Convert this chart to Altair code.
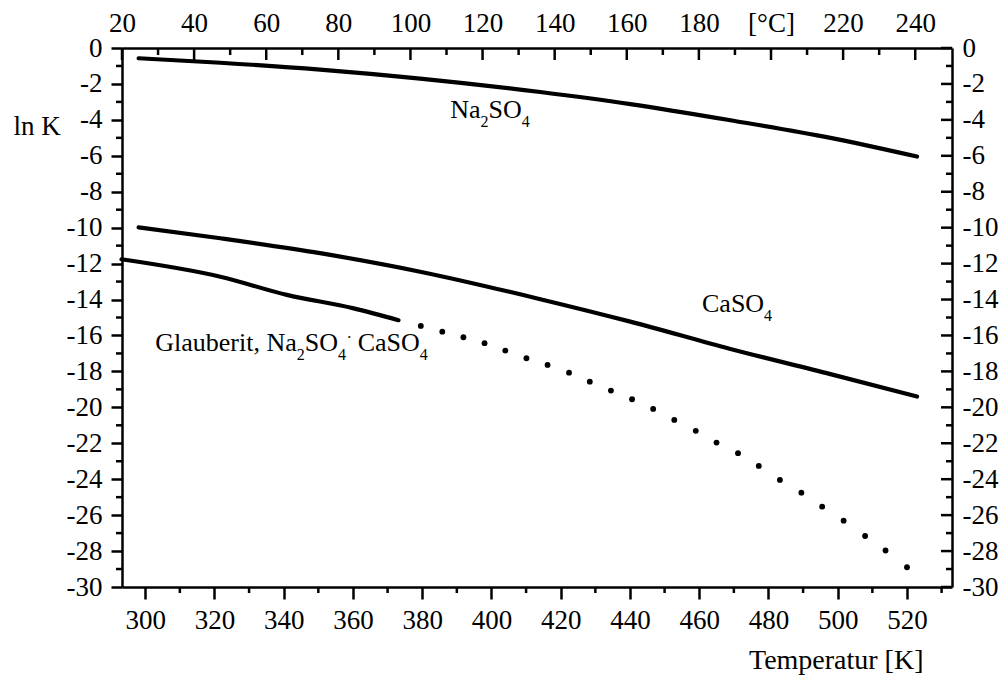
import altair as alt
import pandas as pd

# ---------------- data ----------------
na_K = [298.1, 321.7, 350.5, 379.4, 414.1, 440.1, 469.0, 497.9, 522.9]
na_v = [-0.57, -0.82, -1.20, -1.70, -2.45, -3.12, -4.02, -5.00, -6.04]

ca_K = [298.1, 321.7, 350.5, 379.4, 414.1, 440.1, 469.0, 497.9, 522.9]
ca_v = [-9.98, -10.59, -11.42, -12.45, -13.98, -15.23, -16.75, -18.15, -19.40]

gl_K = [293.15, 321.7, 340.9, 360.2, 373.15]
gl_v = [-11.76, -12.73, -13.74, -14.49, -15.15]

gl_dot_K = [379.6, 385.8, 391.9, 398.0, 404.0, 410.1, 416.2, 422.4, 428.4, 434.5,
            440.6, 446.7, 452.8, 459.0, 465.0, 471.2, 477.2, 483.3, 489.5, 495.5,
            501.7, 507.9, 513.8, 520.0]
gl_dot_v = [-15.47, -15.79, -16.10, -16.43, -16.84, -17.27, -17.64, -18.07, -18.57, -19.07,
            -19.55, -20.09, -20.70, -21.31, -21.96, -22.55, -23.26, -24.04, -24.75, -25.53,
            -26.31, -27.16, -27.97, -28.90]

K_major = [300, 320, 340, 360, 380, 400, 420, 440, 460, 480, 500, 520]
K_minor = [310, 330, 350, 370, 390, 410, 430, 450, 470, 490, 510, 530]
C_major = [20, 40, 60, 80, 100, 120, 140, 160, 180, 200, 220, 240]
C_minor = [30, 50, 70, 90, 110, 130, 150, 170, 190, 210, 230]
Y_major = [0, -2, -4, -6, -8, -10, -12, -14, -16, -18, -20, -22, -24, -26, -28, -30]
Y_minor = [-1, -3, -5, -7, -9, -11, -13, -15, -17, -19, -21, -23, -25, -27, -29]

K_DOMAIN = [293.3, 533.0]
C_DOMAIN = [20.0, 250.2]
Y_DOMAIN = [-30, 0]

# label anchors (temperature K, ln K) at left baseline
lbl_na = (388.1, -3.90)
lbl_ca = (460.8, -14.71)
lbl_gl = (302.9, -16.89)

# ---------------- styling ----------------
W, H = 830, 539
FONT = "Liberation Serif"
FS = 27      # axis text
TFS = 28     # axis title
LFS = 26     # curve labels
SFS = 16     # subscripts
TW = 2.5

ks = alt.Scale(domain=K_DOMAIN, nice=False, zero=False)
cs = alt.Scale(domain=C_DOMAIN, nice=False, zero=False)
ys = alt.Scale(domain=Y_DOMAIN, nice=False, zero=False)

common_axis = dict(grid=False, domainColor="black", domainWidth=TW, tickColor="black",
                   tickWidth=TW, labelFont=FONT, labelFontSize=FS, labelColor="black",
                   labelFlush=False, labelOverlap=False)

lines_df = pd.DataFrame({
    "K": na_K + ca_K + gl_K,
    "v": na_v + ca_v + gl_v,
    "series": ["Na2SO4"] * len(na_K) + ["CaSO4"] * len(ca_K) + ["Glauberit"] * len(gl_K),
})

lines = alt.Chart(lines_df).mark_line(
    color="black", strokeWidth=4.2, strokeCap="round", strokeJoin="round",
    interpolate="monotone"
).encode(
    x=alt.X("K:Q", scale=ks, axis=alt.Axis(
        orient="bottom", values=K_major, tickSize=12, labelPadding=8,
        labelExpr="datum.value + ''",
        title="Temperatur [K]", titleFont=FONT, titleFontSize=TFS, titleFontWeight="normal",
        titleColor="black", titleX=801, titleY=81, titleAlign="right",
        titleBaseline="alphabetic", **common_axis)),
    y=alt.Y("v:Q", scale=ys, axis=alt.Axis(
        orient="left", values=Y_major, tickSize=11, labelPadding=9,
        labelExpr="datum.value + ''",
        title="ln K", titleFont=FONT, titleFontSize=FS, titleFontWeight="normal",
        titleColor="black", titleAngle=0, titleX=-109, titleY=86, titleAlign="left",
        titleBaseline="alphabetic", **common_axis)),
    detail="series:N",
)

dots = alt.Chart(pd.DataFrame({"K": gl_dot_K, "v": gl_dot_v})).mark_point(
    filled=True, color="black", size=34, opacity=1, shape="circle"
).encode(
    x=alt.X("K:Q", scale=ks, axis=None),
    y=alt.Y("v:Q", scale=ys, axis=None),
)

rule_style = dict(color="black", strokeWidth=TW)

left_minor = alt.Chart(pd.DataFrame({"v": Y_minor})).mark_rule(**rule_style).encode(
    x=alt.value(-6), x2=alt.value(0),
    y=alt.Y("v:Q", scale=ys, axis=None),
)

right_major = alt.Chart(pd.DataFrame({"v": Y_major})).mark_rule(**rule_style).encode(
    x=alt.value(W - 11), x2=alt.value(W),
    y=alt.Y("v:Q", scale=ys, axis=alt.Axis(
        orient="right", values=Y_major, ticks=False, labelPadding=10,
        labelExpr="datum.value + ''", title=None, **common_axis)),
)

right_minor = alt.Chart(pd.DataFrame({"v": Y_minor})).mark_rule(**rule_style).encode(
    x=alt.value(W - 6), x2=alt.value(W),
    y=alt.Y("v:Q", scale=ys, axis=None),
)

bottom_minor = alt.Chart(pd.DataFrame({"K": K_minor})).mark_rule(**rule_style).encode(
    x=alt.X("K:Q", scale=ks, axis=None),
    y=alt.value(H), y2=alt.value(H + 6),
)

top_major = alt.Chart(pd.DataFrame({"C": C_major})).mark_rule(**rule_style).encode(
    x=alt.X("C:Q", scale=cs, axis=alt.Axis(
        orient="top", values=C_major, ticks=False, labelPadding=11,
        labelExpr="datum.value == 200 ? '[°C]' : datum.value + ''",
        title=None, **common_axis)),
    y=alt.value(0), y2=alt.value(12),
)

top_minor = alt.Chart(pd.DataFrame({"C": C_minor})).mark_rule(**rule_style).encode(
    x=alt.X("C:Q", scale=cs, axis=None),
    y=alt.value(0), y2=alt.value(7),
)


def piece(text, anchor, dx, dy, size):
    df = pd.DataFrame({"K": [anchor[0]], "v": [anchor[1]], "t": [text]})
    return alt.Chart(df).mark_text(
        align="left", baseline="alphabetic", font=FONT, fontSize=size,
        dx=dx, dy=dy, color="black"
    ).encode(
        x=alt.X("K:Q", scale=ks, axis=None),
        y=alt.Y("v:Q", scale=ys, axis=None),
        text="t:N",
    )


labels = [
    piece("Na", lbl_na, 0, 0, LFS),
    piece("2", lbl_na, 30.3, 9, SFS),
    piece("SO", lbl_na, 38.3, 0, LFS),
    piece("4", lbl_na, 71.5, 9, SFS),
    piece("CaSO", lbl_ca, 0, 0, LFS),
    piece("4", lbl_ca, 62.1, 9, SFS),
    piece("Glauberit, Na", lbl_gl, 0, 0, LFS),
    piece("2", lbl_gl, 141.5, 9, SFS),
    piece("SO", lbl_gl, 149.5, 0, LFS),
    piece("4", lbl_gl, 182.7, 9, SFS),
    piece(".", lbl_gl, 192, -13, SFS),
    piece("CaSO", lbl_gl, 202.5, 0, LFS),
    piece("4", lbl_gl, 264.6, 9, SFS),
]

chart = alt.layer(
    lines, dots, left_minor, right_major, right_minor, bottom_minor,
    top_major, top_minor, *labels
).resolve_scale(
    x="independent"
).resolve_axis(
    x="independent", y="independent"
).properties(
    width=W, height=H,
    padding={"left": 122, "top": 48, "right": 52, "bottom": 90},
    autosize=alt.AutoSizeParams(type="none"),
    background="white",
).configure_view(
    stroke=None
).configure_axis(
    labelFont=FONT, titleFont=FONT
).configure_text(
    font=FONT
)

chart.save("out.html", embed_options={"renderer": "svg", "actions": False})
